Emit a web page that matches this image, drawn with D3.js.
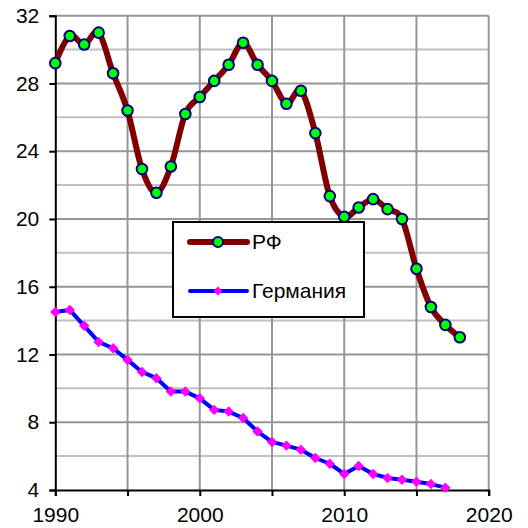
<!DOCTYPE html>
<html lang="ru">
<head>
<meta charset="utf-8">
<title>РФ и Германия</title>
<script src="https://d3js.org/d3.v7.js"></script>
<style>
  body { margin: 0; background: #fff; overflow: hidden; }
  svg { display: block; }
  text { font-family: "Liberation Sans", Arial, sans-serif; fill: #000; }
</style>
</head>
<body>
<script>
const years = d3.range(1990, 2019);
const rf = [29.2, 30.8, 30.3, 31.0, 28.6, 26.4, 22.95, 21.55, 23.1, 26.2,
            27.2, 28.15, 29.1, 30.4, 29.1, 28.15, 26.8, 27.57, 25.07, 21.35,
            20.13, 20.68, 21.17, 20.58, 20.0, 17.06, 14.8, 13.75, 13.02];
const germany = [14.51, 14.63, 13.69, 12.74, 12.37, 11.68, 10.97, 10.6, 9.81, 9.81,
                 9.41, 8.73, 8.63, 8.25, 7.45, 6.84, 6.62, 6.38, 5.89, 5.55,
                 4.95, 5.42, 4.95, 4.71, 4.61, 4.49, 4.35, 4.14];
const xTickLabels = [1990, 2000, 2010, 2020];
const yTickLabels = [4, 8, 12, 16, 20, 24, 28, 32];
const seriesNames = ["РФ", "Германия"];

const w = 528, h = 528;
const margin = {top: 15.7, right: 39.3, bottom: 38, left: 55.3};
const innerWidth = w - margin.left - margin.right;
const innerHeight = h - margin.top - margin.bottom;

const svg = d3.select("body").append("svg")
  .attr("width", w)
  .attr("height", h);

const xScale = d3.scaleLinear().domain([1990, 2020]).range([0, innerWidth]);
const yScale = d3.scaleLinear().domain([4, 32]).range([innerHeight, 0]);

const g = svg.append("g")
  .attr("transform", `translate(${margin.left}, ${margin.top})`);

// minor horizontal grid (every 2)
g.selectAll(".minor").data(d3.range(6, 32, 4)).enter().append("line")
  .attr("x1", 0).attr("x2", innerWidth)
  .attr("y1", d => yScale(d)).attr("y2", d => yScale(d))
  .attr("stroke", "#c0c0c0").attr("stroke-width", 2);
// major horizontal grid
g.selectAll(".major").data(d3.range(8, 33, 4)).enter().append("line")
  .attr("x1", 0).attr("x2", innerWidth)
  .attr("y1", d => yScale(d)).attr("y2", d => yScale(d))
  .attr("stroke", "#969696").attr("stroke-width", 2);
// vertical grid
g.selectAll(".vgrid").data(d3.range(1995, 2021, 5)).enter().append("line")
  .attr("x1", d => xScale(d)).attr("x2", d => xScale(d))
  .attr("y1", 0).attr("y2", innerHeight)
  .attr("stroke", "#969696").attr("stroke-width", 2);

// axes
const xAxis = d3.axisBottom(xScale)
  .tickValues(d3.range(1990, 2021, 5))
  .tickSize(6)
  .tickFormat(d => xTickLabels.includes(d) ? d : "");
const yAxis = d3.axisLeft(yScale)
  .tickValues(yTickLabels)
  .tickSize(6)
  .tickFormat(d => d);

const gx = g.append("g")
  .attr("transform", `translate(0, ${innerHeight})`)
  .call(xAxis);
const gy = g.append("g").call(yAxis);

// drop the empty labels of the 5-year ticks
gx.selectAll(".tick text").filter(function() { return this.textContent === ""; }).remove();

[gx, gy].forEach(a => {
  a.select(".domain").attr("stroke", "#000").attr("stroke-width", 2);
  a.selectAll(".tick line").attr("stroke", "#000").attr("stroke-width", 2);
  a.selectAll("text").attr("font-size", 21)
    .attr("font-family", "Liberation Sans, Arial, sans-serif").attr("fill", "#000");
});
gx.selectAll("text").attr("dy", "0.71em").attr("y", 17);
gy.selectAll("text").attr("x", -16);

// Germany
const gerData = germany.map((v, i) => ({x: years[i], y: v}));
g.append("path").datum(gerData)
  .attr("d", d3.line().x(d => xScale(d.x)).y(d => yScale(d.y)))
  .attr("fill", "none").attr("stroke", "#0000ff").attr("stroke-width", 4)
  .attr("stroke-linejoin", "round");
g.selectAll(".ger").data(gerData).enter().append("path")
  .attr("transform", d => `translate(${xScale(d.x)}, ${yScale(d.y)})`)
  .attr("d", d3.symbol(d3.symbolDiamond2, 70))
  .attr("fill", "#ff00ff");

// RF
const rfData = rf.map((v, i) => ({x: years[i], y: v}));
g.append("path").datum(rfData)
  .attr("d", d3.line().x(d => xScale(d.x)).y(d => yScale(d.y)).curve(d3.curveCatmullRom.alpha(0)))
  .attr("fill", "none").attr("stroke", "#800000").attr("stroke-width", 6)
  .attr("stroke-linejoin", "round");
g.selectAll(".rf").data(rfData).enter().append("circle")
  .attr("cx", d => xScale(d.x)).attr("cy", d => yScale(d.y))
  .attr("r", 5.3)
  .attr("fill", "#00ff00").attr("stroke", "#000080").attr("stroke-width", 2);

// legend
const legend = svg.append("g").attr("transform", "translate(173, 222)");
legend.append("rect")
  .attr("width", 191).attr("height", 95)
  .attr("fill", "#fff").attr("stroke", "#000").attr("stroke-width", 2);
const lg1 = legend.append("g").attr("transform", "translate(0, 20)");
lg1.append("line").attr("x1", 17).attr("x2", 74)
  .attr("stroke", "#800000").attr("stroke-width", 6).attr("stroke-linecap", "round");
lg1.append("circle").attr("cx", 45).attr("r", 5)
  .attr("fill", "#00ff00").attr("stroke", "#000080").attr("stroke-width", 2);
lg1.append("text").attr("x", 79).attr("dy", "0.35em").attr("font-size", 21).text(seriesNames[0]);
const lg2 = legend.append("g").attr("transform", "translate(0, 69)");
lg2.append("line").attr("x1", 17).attr("x2", 74)
  .attr("stroke", "#0000ff").attr("stroke-width", 4).attr("stroke-linecap", "round");
lg2.append("path").attr("transform", "translate(45, 0)")
  .attr("d", d3.symbol(d3.symbolDiamond2, 50)).attr("fill", "#ff00ff");
lg2.append("text").attr("x", 79).attr("dy", "0.35em").attr("font-size", 21).text(seriesNames[1]);
</script>
</body>
</html>
